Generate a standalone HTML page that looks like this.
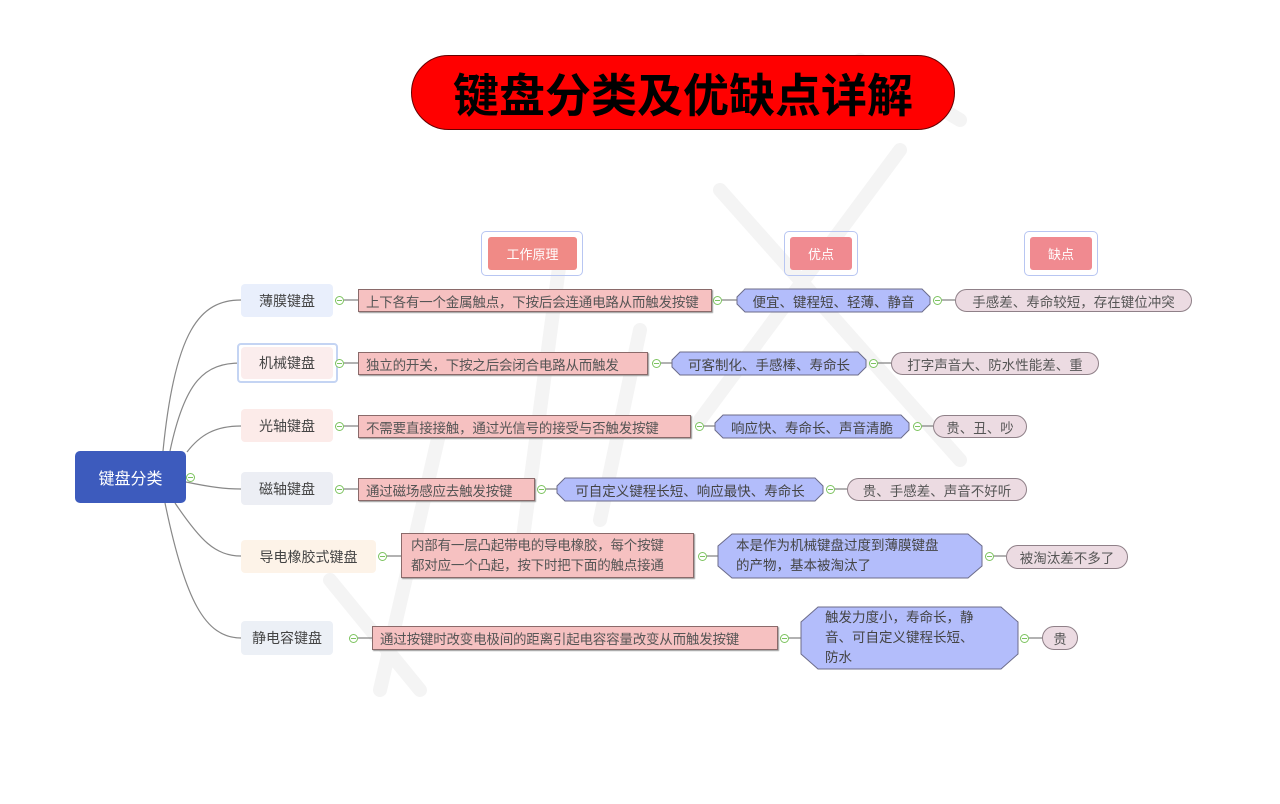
<!DOCTYPE html>
<html><head><meta charset="utf-8"><style>
body{margin:0;width:1280px;height:804px;background:#fff;position:relative;overflow:hidden;font-family:"Liberation Sans","Noto Sans CJK SC",sans-serif;font-size:13.5px;color:#444}
.a{position:absolute;box-sizing:border-box;display:flex;align-items:center;justify-content:center;white-space:nowrap}
.l1{border-radius:4px;font-size:14px;color:#444}
.pk{background:#f6c1c1;border:1px solid #8a6a6a;justify-content:flex-start;padding-left:7px;color:#555;box-shadow:1px 1px 1px #999;letter-spacing:-0.2px}
.pl{background:#ecdbe2;border:1px solid #8f8088;border-radius:14px;color:#555}
.c{position:absolute;width:9px;height:9px;border:1px solid #7cc35f;border-radius:50%;box-sizing:border-box;background:#fff}
.c::after{content:"";position:absolute;left:1px;right:1px;top:3px;height:1px;background:#7cc35f}
</style></head><body>
<svg width="1280" height="804" style="position:absolute;left:0;top:0">
<g stroke="#f4f4f4" stroke-width="14" fill="none" stroke-linecap="round">
<path d="M720 190 L960 460"/><path d="M900 150 L700 420"/><path d="M560 260 L520 560"/><path d="M440 430 L380 690"/><path d="M330 580 L420 690"/><path d="M640 330 L600 520"/><path d="M860 60 L960 120"/>
</g>
<g stroke="#888" stroke-width="1.2" fill="none">
<path d="M163 451 C175 330 200 300 241 300"/>
<path d="M170 451 C185 380 205 363 241 363"/>
<path d="M187 452 C200 435 215 426 241 426"/>
<path d="M186 482 C210 487 225 489 241 489"/>
<path d="M175 503 C200 540 215 556 241 556"/>
<path d="M165 503 C185 600 205 638 241 638"/>
</g>
<g stroke="#666" stroke-width="1">
<path d="M344 300H358M722 300H737M942 300H955"/>
<path d="M344 363H358M661 363H672M878 363H891"/>
<path d="M344 426H358M704 426H715M922 426H933"/>
<path d="M344 489H358M546 489H557M835 489H847"/>
<path d="M387 556H401M707 556H718M994 556H1006"/>
<path d="M358 638H372M789 638H801M1029 638H1042"/>
</g>
<g fill="#b3bdfb" stroke="#6c6c8a" stroke-width="1">
<polygon points="745,289 922,289 930,297 930,304 922,312 745,312 737,304 737,297"/>
<polygon points="680,352 858,352 866,360 866,367 858,375 680,375 672,367 672,360"/>
<polygon points="723,415 901,415 909,423 909,430 901,438 723,438 715,430 715,423"/>
<polygon points="565,478 815,478 823,486 823,493 815,501 565,501 557,493 557,486"/>
<polygon points="732,534 968,534 982,546 982,566 968,578 732,578 718,566 718,546"/>
<polygon points="818,607 1001,607 1018,622 1018,654 1001,669 818,669 801,654 801,622"/>
</g>
</svg>
<div class="a" style="left:411px;top:55px;width:544px;height:75px;background:#ff0000;border-radius:38px;border:1px solid #600;font-size:46px;font-weight:bold;color:#000">键盘分类及优缺点详解</div>
<div class="a" style="left:481px;top:231px;width:102px;height:45px;border:1px solid #b8c6f2;border-radius:5px"></div>
<div class="a" style="left:488px;top:237px;width:89px;height:33px;background:#f08a86;color:#fff;border-radius:3px;font-size:13px">工作原理</div>
<div class="a" style="left:784px;top:231px;width:74px;height:45px;border:1px solid #b8c6f2;border-radius:5px"></div>
<div class="a" style="left:790px;top:237px;width:62px;height:33px;background:#f08a90;color:#fff;border-radius:3px;font-size:13px">优点</div>
<div class="a" style="left:1024px;top:231px;width:74px;height:45px;border:1px solid #b8c6f2;border-radius:5px"></div>
<div class="a" style="left:1030px;top:237px;width:62px;height:33px;background:#f08a90;color:#fff;border-radius:3px;font-size:13px">缺点</div>
<div class="a" style="left:75px;top:451px;width:111px;height:52px;background:#3d5bbd;color:#fff;border-radius:5px;font-size:16px">键盘分类</div>
<div class="c" style="left:186px;top:473px"></div>
<div class="a l1" style="left:241px;top:284px;width:92px;height:33px;background:#e9effc">薄膜键盘</div>
<div class="a l1" style="left:237px;top:343px;width:101px;height:40px;border:2px solid #c4d4f3;background:#fff"></div>
<div class="a l1" style="left:241px;top:347px;width:92px;height:32px;background:#fbeded">机械键盘</div>
<div class="a l1" style="left:241px;top:409px;width:92px;height:33px;background:#fcebe9">光轴键盘</div>
<div class="a l1" style="left:241px;top:472px;width:92px;height:33px;background:#eceef4">磁轴键盘</div>
<div class="a l1" style="left:241px;top:540px;width:135px;height:33px;background:#fdf3e8">导电橡胶式键盘</div>
<div class="a l1" style="left:241px;top:621px;width:92px;height:34px;background:#ecf0f6">静电容键盘</div>

<div class="c" style="left:335px;top:296px"></div><div class="a pk" style="left:358px;top:289px;width:354px;height:23px">上下各有一个金属触点，下按后会连通电路从而触发按键</div>
<div class="c" style="left:713px;top:296px"></div><div class="a" style="left:737px;top:289px;width:193px;height:23px;color:#444">便宜、键程短、轻薄、静音</div>
<div class="c" style="left:933px;top:296px"></div><div class="a pl" style="left:955px;top:289px;width:237px;height:23px">手感差、寿命较短，存在键位冲突</div>

<div class="c" style="left:335px;top:359px"></div><div class="a pk" style="left:358px;top:352px;width:290px;height:23px">独立的开关，下按之后会闭合电路从而触发</div>
<div class="c" style="left:652px;top:359px"></div><div class="a" style="left:672px;top:352px;width:194px;height:23px">可客制化、手感棒、寿命长</div>
<div class="c" style="left:869px;top:359px"></div><div class="a pl" style="left:891px;top:352px;width:208px;height:23px">打字声音大、防水性能差、重</div>

<div class="c" style="left:335px;top:422px"></div><div class="a pk" style="left:358px;top:415px;width:333px;height:23px">不需要直接接触，通过光信号的接受与否触发按键</div>
<div class="c" style="left:695px;top:422px"></div><div class="a" style="left:715px;top:415px;width:194px;height:23px">响应快、寿命长、声音清脆</div>
<div class="c" style="left:913px;top:422px"></div><div class="a pl" style="left:933px;top:415px;width:94px;height:23px">贵、丑、吵</div>

<div class="c" style="left:335px;top:485px"></div><div class="a pk" style="left:358px;top:478px;width:177px;height:23px">通过磁场感应去触发按键</div>
<div class="c" style="left:537px;top:485px"></div><div class="a" style="left:557px;top:478px;width:266px;height:23px">可自定义键程长短、响应最快、寿命长</div>
<div class="c" style="left:826px;top:485px"></div><div class="a pl" style="left:847px;top:478px;width:180px;height:23px">贵、手感差、声音不好听</div>

<div class="c" style="left:378px;top:552px"></div><div class="a pk" style="left:401px;top:533px;width:293px;height:45px;white-space:normal;line-height:20px;padding-left:9px;padding-right:26px">内部有一层凸起带电的导电橡胶，每个按键都对应一个凸起，按下时把下面的触点接通</div>
<div class="c" style="left:698px;top:552px"></div><div class="a" style="left:718px;top:534px;width:264px;height:44px;white-space:normal;line-height:20px;justify-content:flex-start;padding:0 34px 0 18px">本是作为机械键盘过度到薄膜键盘的产物，基本被淘汰了</div>
<div class="c" style="left:985px;top:552px"></div><div class="a pl" style="left:1006px;top:545px;width:122px;height:24px">被淘汰差不多了</div>

<div class="c" style="left:349px;top:634px"></div><div class="a pk" style="left:372px;top:626px;width:406px;height:24px">通过按键时改变电极间的距离引起电容容量改变从而触发按键</div>
<div class="c" style="left:780px;top:634px"></div><div class="a" style="left:801px;top:607px;width:217px;height:62px;white-space:normal;line-height:20px;justify-content:flex-start;padding:0 40px 0 24px">触发力度小，寿命长，静音、可自定义键程长短、防水</div>
<div class="c" style="left:1020px;top:634px"></div><div class="a pl" style="left:1042px;top:626px;width:36px;height:24px">贵</div>
</body></html>
